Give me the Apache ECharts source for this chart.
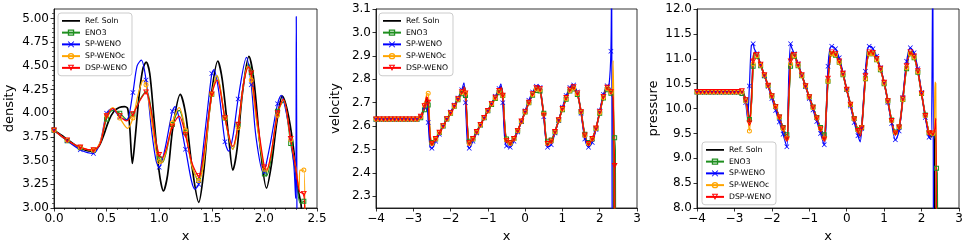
<!DOCTYPE html>
<html><head><meta charset="utf-8">
<script src="https://cdn.jsdelivr.net/npm/echarts@6/dist/echarts.min.js"></script>
<style>html,body{margin:0;padding:0;background:#fff}#c{width:969px;height:247px}</style>
</head><body><div id="c"></div><script>
// ---------------- DATA ----------------
const seriesNames = ['Ref. Soln','ENO3','SP-WENO','SP-WENOc','DSP-WENO'];

// Panel 1 : density (x in [0,2.5])
const densXTicks = [0.0,0.5,1.0,1.5,2.0,2.5];
const densYTicks = [3.00,3.25,3.50,3.75,4.00,4.25,4.50,4.75,5.00];
const densRef = [[0,3.82],[0.1,3.745],[0.2,3.665],[0.3,3.61],[0.36,3.60],[0.42,3.64],[0.47,3.76],[0.52,3.92],[0.57,4.02],[0.62,4.06],[0.67,4.07],[0.70,4.05],[0.72,3.85],[0.745,3.47],[0.77,3.72],[0.81,4.2],[0.845,4.47],[0.876,4.54],[0.91,4.42],[0.95,3.95],[1.0,3.38],[1.04,3.18],[1.08,3.35],[1.13,3.85],[1.2,4.2],[1.25,4.0],[1.31,3.45],[1.376,3.06],[1.42,3.35],[1.48,4.05],[1.557,4.55],[1.6,4.35],[1.66,3.75],[1.70,3.40],[1.74,3.62],[1.79,4.2],[1.853,4.60],[1.9,4.35],[1.96,3.65],[2.02,3.21],[2.07,3.48],[2.12,3.92],[2.17,4.18],[2.22,4.02],[2.27,3.69],[2.32,3.2],[2.35,3.02],[2.36,2.5]];
const densENO3 = [[0,3.82],[0.125,3.71],[0.25,3.635],[0.375,3.61],[0.44,3.68],[0.5,3.94],[0.56,4.03],[0.625,4.0],[0.7,3.93],[0.75,3.99],[0.82,4.15],[0.88,4.23],[0.93,4.0],[0.97,3.7],[1.0,3.52],[1.03,3.48],[1.07,3.6],[1.125,3.88],[1.19,4.03],[1.25,3.8],[1.31,3.45],[1.375,3.29],[1.42,3.5],[1.5,4.2],[1.55,4.39],[1.625,3.95],[1.70,3.62],[1.75,3.88],[1.8,4.3],[1.85,4.52],[1.875,4.43],[1.93,3.9],[2.0,3.36],[2.02,3.34],[2.06,3.5],[2.125,4.02],[2.18,4.12],[2.25,3.68],[2.3,3.35],[2.34,3.05],[2.375,3.07],[2.39,2.8]];
const densSP = [[0,3.82],[0.125,3.71],[0.25,3.615],[0.375,3.575],[0.44,3.7],[0.5,4.0],[0.55,4.05],[0.625,3.96],[0.69,3.93],[0.75,4.22],[0.79,4.5],[0.83,4.56],[0.875,4.35],[0.93,3.8],[0.97,3.5],[1.0,3.43],[1.05,3.6],[1.125,4.02],[1.15,4.07],[1.2,3.9],[1.25,3.62],[1.34,3.20],[1.375,3.25],[1.44,3.85],[1.5,4.42],[1.52,4.46],[1.57,4.2],[1.625,3.7],[1.66,3.60],[1.7,3.75],[1.75,4.15],[1.83,4.59],[1.875,4.3],[1.92,3.75],[1.99,3.37],[2.0,3.38],[2.06,3.7],[2.125,4.1],[2.16,4.19],[2.2,4.05],[2.25,3.73],[2.28,3.45],[2.297,3.1],[2.303,5.02],[2.31,2.5]];
const densSPc = [[0,3.82],[0.125,3.715],[0.25,3.64],[0.375,3.61],[0.44,3.7],[0.5,3.98],[0.56,4.06],[0.625,3.95],[0.7,3.84],[0.75,3.95],[0.8,4.2],[0.85,4.35],[0.875,4.3],[0.93,3.9],[0.97,3.6],[1.0,3.49],[1.02,3.47],[1.07,3.62],[1.125,3.9],[1.19,4.06],[1.25,3.82],[1.31,3.45],[1.375,3.29],[1.42,3.45],[1.5,4.2],[1.55,4.40],[1.625,3.95],[1.70,3.62],[1.75,3.85],[1.8,4.3],[1.84,4.50],[1.875,4.35],[1.93,3.88],[2.0,3.41],[2.02,3.38],[2.06,3.55],[2.125,3.98],[2.18,4.14],[2.25,3.72],[2.3,3.42],[2.33,3.2],[2.337,3.40],[2.375,3.40],[2.385,2.8]];
const densDSP = [[0,3.82],[0.125,3.715],[0.25,3.64],[0.375,3.61],[0.44,3.68],[0.5,3.97],[0.56,4.05],[0.625,3.97],[0.69,3.92],[0.75,3.99],[0.82,4.14],[0.875,4.22],[0.92,4.05],[0.96,3.75],[1.0,3.56],[1.025,3.53],[1.06,3.6],[1.125,3.86],[1.19,3.97],[1.25,3.77],[1.31,3.48],[1.375,3.34],[1.42,3.55],[1.5,4.2],[1.55,4.35],[1.625,3.95],[1.70,3.65],[1.75,3.88],[1.8,4.3],[1.85,4.49],[1.875,4.42],[1.93,3.95],[2.0,3.43],[2.02,3.40],[2.06,3.55],[2.125,4.0],[2.18,4.15],[2.25,3.73],[2.3,3.4],[2.335,3.17],[2.375,3.15],[2.385,2.8]];

// Panel 2 : velocity (x in [-4,3])
const velXTicks = [-4,-3,-2,-1,0,1,2,3];
const velYTicks = [2.3,2.4,2.5,2.6,2.7,2.8,2.9,3.0,3.1];
const velX = [-4.0,-3.9,-3.8,-3.7,-3.6,-3.5,-3.4,-3.3,-3.2,-3.1,-3.0,-2.9,
 -2.8,-2.7,-2.64,-2.6,-2.55,-2.5,
 -2.4,-2.3,-2.2,-2.1,-2.0,-1.9,-1.8,-1.7,-1.64,-1.6,-1.55,-1.5,
 -1.4,-1.3,-1.2,-1.1,-1.0,-0.9,-0.8,-0.7,-0.65,-0.6,-0.55,-0.5,
 -0.4,-0.3,-0.2,-0.1,0.0,0.1,0.2,0.3,0.35,0.4,0.5,
 0.6,0.7,0.8,0.9,1.0,1.1,1.2,1.27,1.3,1.4,1.5,
 1.6,1.7,1.8,1.9,2.0,2.1,2.2,2.25,2.3,2.32,2.34,2.36,2.38,2.4,2.42,2.44];
const velRef = [2.629,2.629,2.629,2.629,2.629,2.629,2.629,2.629,2.629,2.629,2.629,2.629,
 2.64,2.685,2.72,2.69,2.55,2.522,
 2.545,2.572,2.60,2.63,2.655,2.685,2.715,2.745,2.767,2.74,2.59,2.525,
 2.545,2.575,2.605,2.635,2.665,2.695,2.722,2.75,2.767,2.73,2.6,2.535,
 2.525,2.545,2.58,2.62,2.66,2.70,2.737,2.763,2.767,2.76,2.645,
 2.522,2.535,2.575,2.625,2.673,2.72,2.757,2.77,2.768,2.74,2.66,
 2.56,2.522,2.545,2.59,2.66,2.725,2.765,2.765,2.745,2.74,2.73,2.72,2.0,1.0,0.5,0.3];
const velENO3 = [2.629,2.629,2.629,2.629,2.629,2.629,2.629,2.629,2.629,2.629,2.629,2.629,
 2.635,2.67,2.70,2.69,2.57,2.53,
 2.545,2.572,2.60,2.63,2.655,2.685,2.712,2.738,2.75,2.73,2.61,2.535,
 2.545,2.575,2.605,2.635,2.665,2.692,2.718,2.742,2.755,2.73,2.62,2.545,
 2.53,2.547,2.58,2.62,2.66,2.70,2.732,2.752,2.755,2.75,2.655,
 2.535,2.54,2.575,2.625,2.67,2.715,2.75,2.76,2.758,2.735,2.66,
 2.565,2.53,2.545,2.59,2.655,2.72,2.755,2.755,2.74,2.74,2.73,2.70,2.62,2.55,2.5,1.0];
const velSP = [2.629,2.629,2.629,2.629,2.629,2.629,2.629,2.629,2.629,2.629,2.629,2.629,
 2.64,2.68,2.70,2.615,2.51,2.505,
 2.535,2.565,2.60,2.63,2.66,2.69,2.72,2.755,2.785,2.70,2.53,2.505,
 2.535,2.57,2.605,2.635,2.665,2.697,2.727,2.76,2.78,2.70,2.55,2.515,
 2.51,2.535,2.575,2.62,2.665,2.71,2.745,2.77,2.775,2.765,2.64,
 2.51,2.52,2.57,2.625,2.68,2.73,2.765,2.778,2.775,2.745,2.655,
 2.545,2.51,2.53,2.585,2.665,2.735,2.772,2.775,2.92,3.3,1.5,1.0,0.5,0.3,0.2,0.1];
const velSPc = [2.629,2.629,2.629,2.629,2.629,2.629,2.629,2.629,2.629,2.629,2.629,2.629,
 2.64,2.69,2.735,2.74,2.58,2.525,
 2.545,2.572,2.60,2.63,2.655,2.685,2.714,2.744,2.765,2.74,2.6,2.525,
 2.545,2.575,2.605,2.635,2.665,2.694,2.72,2.748,2.762,2.73,2.61,2.54,
 2.525,2.545,2.58,2.62,2.66,2.70,2.735,2.758,2.76,2.755,2.65,
 2.525,2.535,2.575,2.625,2.672,2.718,2.752,2.765,2.763,2.738,2.66,
 2.56,2.525,2.545,2.59,2.658,2.722,2.76,2.76,2.745,2.74,2.76,2.88,2.6,1.5,1.0,0.5];
const velDSP = [2.629,2.629,2.629,2.629,2.629,2.629,2.629,2.629,2.629,2.629,2.629,2.629,
 2.64,2.685,2.725,2.70,2.56,2.525,
 2.545,2.572,2.60,2.63,2.655,2.685,2.715,2.745,2.766,2.74,2.6,2.527,
 2.545,2.575,2.605,2.635,2.665,2.695,2.722,2.75,2.766,2.73,2.6,2.537,
 2.527,2.545,2.58,2.62,2.66,2.70,2.737,2.762,2.766,2.758,2.645,
 2.524,2.535,2.575,2.625,2.673,2.72,2.756,2.768,2.766,2.74,2.66,
 2.56,2.524,2.545,2.59,2.66,2.725,2.764,2.764,2.745,2.75,2.74,2.72,2.55,2.43,1.5,0.5];

// Panel 3 : pressure (x in [-4,3])
const presXTicks = [-4,-3,-2,-1,0,1,2,3];
const presYTicks = [8.0,8.5,9.0,9.5,10.0,10.5,11.0,11.5,12.0];
const presX = [-4.0,-3.9,-3.8,-3.7,-3.6,-3.5,-3.4,-3.3,-3.2,-3.1,-3.0,-2.9,
 -2.8,-2.75,-2.7,-2.65,-2.6,-2.55,-2.5,-2.47,
 -2.4,-2.3,-2.2,-2.1,-2.0,-1.9,-1.8,-1.7,-1.6,-1.55,-1.5,-1.47,
 -1.4,-1.3,-1.2,-1.1,-1.0,-0.9,-0.8,-0.7,-0.6,-0.55,-0.5,-0.45,
 -0.4,-0.3,-0.2,-0.1,0.0,0.1,0.2,0.3,0.36,0.4,0.5,0.55,
 0.6,0.65,0.7,0.8,0.9,1.0,1.1,1.2,1.3,1.4,1.5,1.6,
 1.7,1.8,1.9,2.0,2.1,2.2,2.25,2.3,2.32,2.34,2.36,2.38,2.4,2.42,2.44];
const presRef = [10.333,10.333,10.333,10.333,10.333,10.333,10.333,10.333,10.333,10.333,10.333,10.333,
 10.33,10.28,10.17,9.98,9.72,10.1,10.95,11.12,
 11.08,10.88,10.67,10.46,10.25,10.03,9.82,9.6,9.38,10.2,10.95,11.13,
 11.08,10.88,10.67,10.45,10.23,10.02,9.8,9.58,9.38,9.9,10.6,10.98,
 11.13,11.1,10.95,10.7,10.38,10.08,9.78,9.55,9.45,9.6,10.65,11.0,
 11.13,11.15,11.12,11.0,10.8,10.52,10.15,9.75,9.5,9.62,10.2,10.85,
 11.13,11.05,10.75,10.3,9.85,9.5,9.43,9.48,9.5,9.55,7.0,5.0,3.0,2.0,1.0];
const presENO3 = [10.333,10.333,10.333,10.333,10.333,10.333,10.333,10.333,10.333,10.333,10.333,10.333,
 10.30,10.26,10.17,10.0,9.78,10.05,10.85,11.08,
 11.05,10.86,10.66,10.46,10.25,10.04,9.83,9.62,9.47,10.1,10.85,11.08,
 11.05,10.86,10.66,10.45,10.23,10.03,9.82,9.62,9.47,9.9,10.55,10.95,
 11.1,11.07,10.93,10.68,10.38,10.08,9.8,9.58,9.5,9.62,10.6,10.97,
 11.1,11.12,11.1,10.98,10.78,10.5,10.15,9.77,9.53,9.63,10.18,10.8,
 11.1,11.02,10.73,10.3,9.87,9.52,9.47,9.5,9.52,9.5,9.45,9.3,8.8,8.7,6.0];
const presSP = [10.333,10.333,10.333,10.333,10.333,10.333,10.333,10.333,10.333,10.333,10.333,10.333,
 10.33,10.27,10.12,9.8,10.45,11.25,11.3,11.2,
 11.1,10.88,10.66,10.44,10.2,9.96,9.73,9.48,9.23,10.6,11.3,11.22,
 11.1,10.9,10.67,10.44,10.2,9.97,9.74,9.5,9.27,9.75,10.85,11.2,
 11.25,11.2,11.02,10.72,10.38,10.05,9.72,9.45,9.33,9.6,10.75,11.15,
 11.25,11.25,11.2,11.05,10.82,10.52,10.12,9.7,9.37,9.55,10.22,10.95,
 11.22,11.12,10.8,10.32,9.82,9.42,9.38,13.0,6.0,5.0,3.0,2.0,1.0,1.0,1.0];
const presSPc = [10.333,10.333,10.333,10.333,10.333,10.333,10.333,10.333,10.333,10.333,10.333,10.333,
 10.33,10.28,10.15,9.9,9.55,10.0,10.9,11.1,
 11.06,10.87,10.67,10.46,10.25,10.03,9.83,9.6,9.4,10.15,10.9,11.1,
 11.06,10.87,10.66,10.45,10.23,10.02,9.81,9.6,9.4,9.88,10.55,10.95,
 11.1,11.08,10.93,10.69,10.38,10.08,9.79,9.57,9.47,9.62,10.6,10.97,
 11.1,11.12,11.1,10.98,10.79,10.51,10.15,9.76,9.52,9.63,10.18,10.82,
 11.1,11.03,10.74,10.3,9.86,9.52,9.45,9.5,9.55,9.6,10.53,10.5,7.0,5.0,3.0];
const presDSP = [10.333,10.333,10.333,10.333,10.333,10.333,10.333,10.333,10.333,10.333,10.333,10.333,
 10.35,10.3,10.17,9.98,9.7,10.1,10.95,11.13,
 11.08,10.88,10.67,10.46,10.25,10.03,9.82,9.6,9.38,10.2,10.95,11.13,
 11.08,10.88,10.67,10.45,10.23,10.02,9.8,9.58,9.38,9.9,10.6,10.98,
 11.13,11.1,10.95,10.7,10.38,10.08,9.78,9.55,9.45,9.6,10.65,11.0,
 11.13,11.15,11.12,11.0,10.8,10.52,10.15,9.75,9.5,9.62,10.2,10.85,
 11.13,11.05,10.75,10.3,9.85,9.5,9.45,9.5,9.52,9.55,9.62,9.8,7.5,4.0,2.0];

// ---------------- STYLE ----------------
const FONT = 'DejaVu Sans';
const SYM_X = 'path://M1,0L5,4L9,0L10,1L6,5L10,9L9,10L5,6L1,10L0,9L4,5L0,1Z';
const SYM_SQ = 'path://M0,0L10,0L10,10L0,10Z M2,2L2,8L8,8L8,2Z';
const SYM_CI = 'path://M5,0A5,5 0 1,1 5,10A5,5 0 1,1 5,0Z M5,2A3,3 0 1,0 5,8A3,3 0 1,0 5,2Z';
const SYM_TR = 'path://M0,0L10,0L5,9.5Z M2.49,1.5L5,6.28L7.51,1.5Z';
const styles = {
  'Ref. Soln': {color:'#000000', width:1.7, symbol:'none', size:0},
  'ENO3':      {color:'#1f8f1f', width:1.2, symbol:SYM_SQ, size:5},
  'SP-WENO':   {color:'#0000ff', width:1.2, symbol:SYM_X, size:5},
  'SP-WENOc':  {color:'#ffa500', width:1.2, symbol:SYM_CI, size:5},
  'DSP-WENO':  {color:'#ff0000', width:1.2, symbol:SYM_TR, size:6}
};
const grids = [
  {left:54, top:9, width:263, height:199},
  {left:376, top:9, width:261, height:199},
  {left:697, top:9, width:262, height:199}
];

function makeSeries(name, pts, step, gi) {
  const st = styles[name];
  const data = pts.map(p => {
    const k = p[0] / step;
    const on = st.symbol !== 'none' && Math.abs(k - Math.round(k)) < 1e-6;
    return on ? {value: p} : {value: p, symbol: 'none'};
  });
  return {
    type: 'line', name: name, xAxisIndex: gi, yAxisIndex: gi, data: data,
    smooth: 0.3, symbol: st.symbol, symbolSize: st.size,
    symbolKeepAspect: true, showSymbol: true, showAllSymbol: true, clip: true,
    lineStyle: {color: st.color, width: st.width},
    itemStyle: {color: st.color, borderWidth: 0},
    emphasis: {disabled: true}, animation: false
  };
}
const zip = (xs, ys) => xs.map((x, i) => [x, ys[i]]);

const series = [];
const p1 = [densRef, densENO3, densSP, densSPc, densDSP];
const p2 = [velRef, velENO3, velSP, velSPc, velDSP];
const p3 = [presRef, presENO3, presSP, presSPc, presDSP];
seriesNames.forEach((n, i) => series.push(makeSeries(n, p1[i], 0.125, 0)));
seriesNames.forEach((n, i) => series.push(makeSeries(n, zip(velX, p2[i]), 0.1, 1)));
seriesNames.forEach((n, i) => series.push(makeSeries(n, zip(presX, p3[i]), 0.1, 2)));

const minus = v => (v < 0 ? '\u2212' + Math.abs(v) : String(v));
function axisCfg(gi, min, max, interval, ticks, fmt, name, gap, minor) {
  return {
    gridIndex: gi, type: 'value', min: min, max: max, interval: interval,
    name: name, nameLocation: 'middle', nameGap: gap,
    nameTextStyle: {fontFamily: FONT, fontSize: 13, color: '#000'},
    axisLine: {show: true, onZero: false, lineStyle: {color: '#000', width: 0.8}},
    axisTick: {show: true, length: 3.5, inside: false, customValues: ticks, lineStyle: {color: '#000', width: 0.8}},
    minorTick: {show: minor, splitNumber: 5, length: 2, lineStyle: {color: '#000', width: 0.6}},
    axisLabel: {show: true, margin: 5, customValues: ticks, formatter: fmt, fontFamily: FONT, fontSize: 12, color: '#000'},
    splitLine: {show: false}, minorSplitLine: {show: false}
  };
}

const legendData = seriesNames.map(n => n === 'Ref. Soln' ? {name: n, icon: 'path://M0,0L40,0L40,4L0,4Z'} : {name: n});
function legendCfg(left, top) {
  return {
    show: true, orient: 'vertical', left: left, top: top, data: legendData,
    itemWidth: 18, itemHeight: 8, itemGap: 2, padding: [3, 5, 3, 3],
    borderColor: '#cccccc', borderWidth: 1, borderRadius: 3, backgroundColor: 'rgba(255,255,255,0.85)',
    textStyle: {fontFamily: FONT, fontSize: 7.7, color: '#000', lineHeight: 9.75},
    selectedMode: false
  };
}

const option = {
  animation: false,
  backgroundColor: '#ffffff',
  textStyle: {fontFamily: FONT},
  grid: grids.map(g => Object.assign({show: true, borderColor: '#000', borderWidth: 0.8, backgroundColor: 'transparent', containLabel: false, outerBoundsMode: 'none'}, g)),
  xAxis: [
    axisCfg(0, 0, 2.5, 0.5, densXTicks, v => v.toFixed(1), 'x', 17, true),
    axisCfg(1, -4, 3, 1, velXTicks, minus, 'x', 17, false),
    axisCfg(2, -4, 3, 1, presXTicks, minus, 'x', 17, false)
  ],
  yAxis: [
    axisCfg(0, 3.0, 5.1, 0.25, densYTicks, v => v.toFixed(2), 'density', 38, true),
    axisCfg(1, 2.25, 3.1, null, velYTicks, v => v.toFixed(1), 'velocity', 34, false),
    axisCfg(2, 8, 12, 0.5, presYTicks, v => v.toFixed(1), 'pressure', 37, false)
  ],
  legend: [legendCfg(58, 13), legendCfg(379, 13), legendCfg(702, 142)],
  series: series
};
const chart = echarts.init(document.getElementById('c'), null, {renderer: 'canvas'});
chart.setOption(option);
</script></body></html>
